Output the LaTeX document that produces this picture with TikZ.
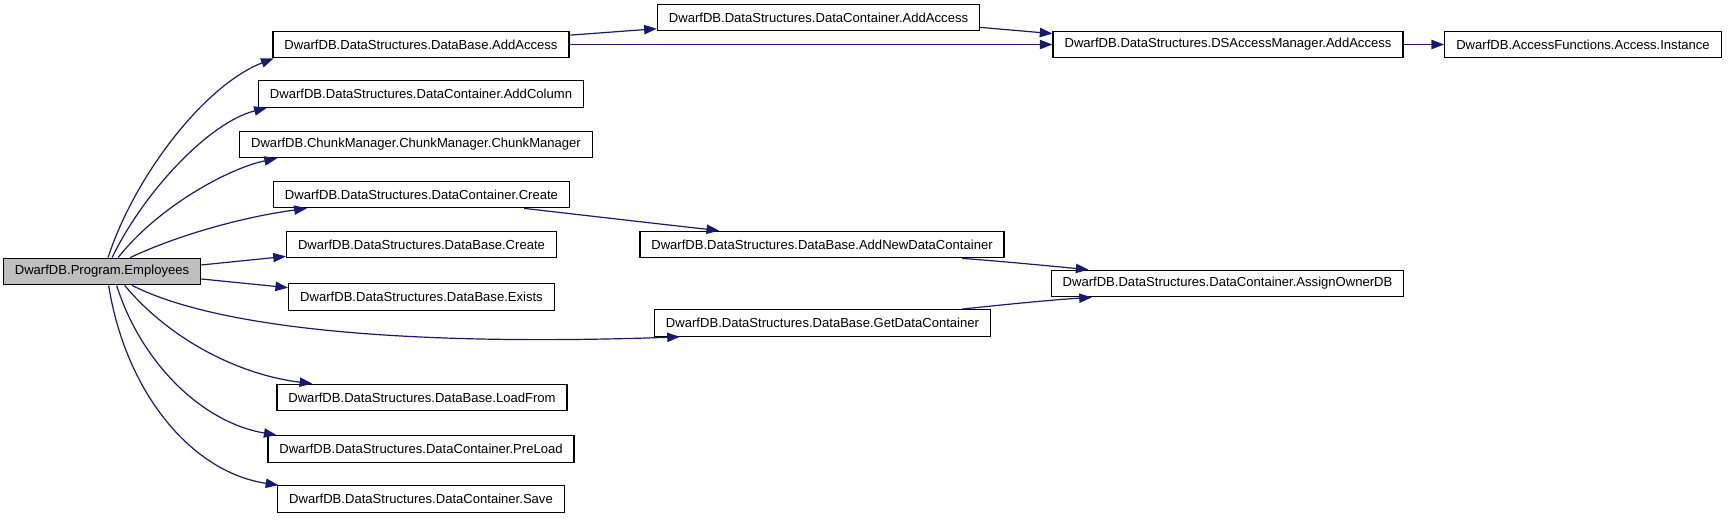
\documentclass[tikz,border=0pt]{standalone}
\usepackage{fontspec}
\setmainfont{Liberation Sans}
\usetikzlibrary{arrows.meta}
\definecolor{callblue}{HTML}{191970}
\definecolor{curgray}{HTML}{BFBFBF}

\begin{document}
\begin{tikzpicture}[x=0.75pt,y=-0.75pt,
  fn/.style={draw=black,line width=1pt,fill=white,inner xsep=8.6pt,inner ysep=0pt,minimum height=19.8pt,font=\fontsize{9.8}{12}\selectfont},
  cur/.style={fn,fill=curgray},
  call/.style={-{Triangle[length=9.5pt,width=7pt]},draw=callblue,line width=0.9pt}
]
\fill[white] (0,0) rectangle (1736,519);
\useasboundingbox (0,0) rectangle (1736,519);

\node[cur] (emp) at (102,271.5) {DwarfDB.Program.Employees};
\node[fn] (aa) at (421,44.5) {DwarfDB.DataStructures.DataBase.AddAccess};
\node[fn] (acol) at (421,94) {DwarfDB.DataStructures.DataContainer.AddColumn};
\node[fn] (chunk) at (416,144.5) {DwarfDB.ChunkManager.ChunkManager.ChunkManager};
\node[fn] (dcc) at (421.5,194.5) {DwarfDB.DataStructures.DataContainer.Create};
\node[fn] (dbc) at (421.5,244.5) {DwarfDB.DataStructures.DataBase.Create};
\node[fn] (exists) at (421.5,297) {DwarfDB.DataStructures.DataBase.Exists};
\node[fn] (load) at (422,397.5) {DwarfDB.DataStructures.DataBase.LoadFrom};
\node[fn] (preload) at (421,449) {DwarfDB.DataStructures.DataContainer.PreLoad};
\node[fn] (save) at (421,499) {DwarfDB.DataStructures.DataContainer.Save};
\node[fn] (dcaa) at (818.5,17.5) {DwarfDB.DataStructures.DataContainer.AddAccess};
\node[fn] (dsaa) at (1228,44.5) {DwarfDB.DataStructures.DSAccessManager.AddAccess};
\node[fn] (inst) at (1583,44.5) {DwarfDB.AccessFunctions.Access.Instance};
\node[fn] (addnew) at (822,244.5) {DwarfDB.DataStructures.DataBase.AddNewDataContainer};
\node[fn] (getdc) at (822.5,323) {DwarfDB.DataStructures.DataBase.GetDataContainer};
\node[fn] (assign) at (1227.5,283.5) {DwarfDB.DataStructures.DataContainer.AssignOwnerDB};

\draw[call] ([xshift=4.5pt]emp.north) .. controls (135,175) and (205,85) .. ([xshift=1pt]aa.south west);
\draw[call] ([xshift=7.5pt]emp.north) .. controls (145,190) and (210,122) .. ([xshift=6.75pt]acol.south west);
\draw[call] ([xshift=12pt]emp.north) .. controls (160,205) and (230,168) .. ([xshift=28.5pt]chunk.south west);
\draw[call] ([xshift=21pt]emp.north) .. controls (185,232) and (250,216) .. ([xshift=25.5pt]dcc.south west);
\draw[call] ([yshift=4.9pt]emp.east) -- ([yshift=1.5pt]dbc.south west);
\draw[call] ([yshift=-5.6pt]emp.east) -- ([yshift=7pt]exists.west);
\draw[call] ([xshift=22.5pt]emp.south) .. controls (230,335) and (450,345) .. ([xshift=19.5pt]getdc.south west);
\draw[call] ([xshift=17pt]emp.south) .. controls (170,340) and (240,375) .. ([xshift=27pt]load.north west);
\draw[call] ([xshift=11pt]emp.south) .. controls (140,360) and (200,422) .. ([xshift=7pt]preload.north west);
\draw[call] ([xshift=5pt]emp.south) .. controls (125,390) and (190,472) .. ([xshift=1pt]save.north west);
\draw[call] ([yshift=7pt]aa.east) -- ([yshift=2pt]dcaa.south west);
\draw[call] (aa.east) -- (dsaa.west);
\draw[call] ([yshift=3pt]dcaa.south east) -- ([yshift=-2.25pt]dsaa.north west);
\draw[call] (dsaa.east) -- (inst.west);
\draw[call] ([xshift=77pt]dcc.south) .. controls (590,216) and (660,224) .. ([xshift=60pt]addnew.north west);
\draw[call] ([xshift=-32pt]addnew.south east) .. controls (1010,262) and (1050,266) .. ([xshift=28.5pt]assign.north west);
\draw[call] ([xshift=-22pt]getdc.north east) .. controls (1010,304) and (1050,300) .. ([xshift=31pt]assign.south west);
\end{tikzpicture}
\end{document}
